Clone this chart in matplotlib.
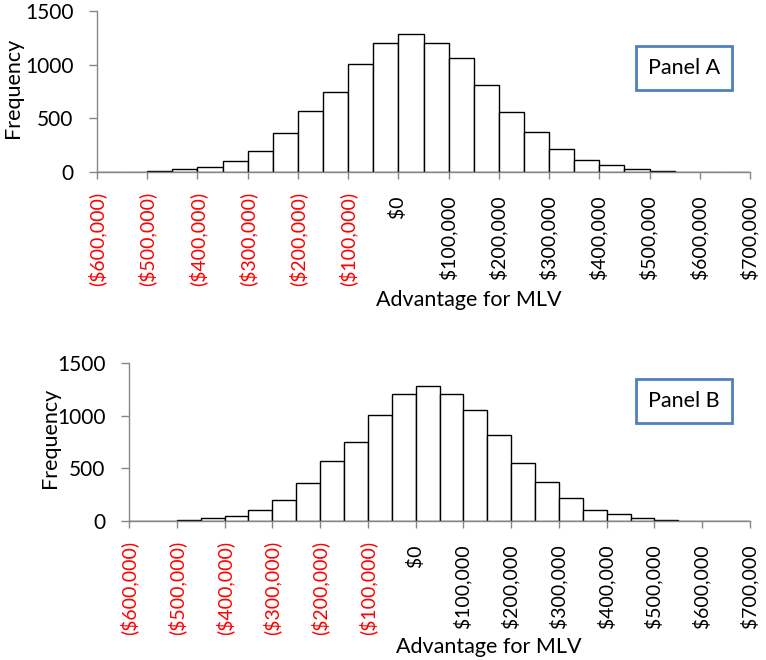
import matplotlib
matplotlib.use("Agg")
import matplotlib.pyplot as plt
import numpy as np

plt.rcParams['font.family'] = ['Lato', 'DejaVu Sans']

# histogram of the MLV advantage, bins of $50,000 from -$600,000 to $700,000
bin_edges = list(range(-600000, 700000, 50000))
freq_a = [0, 0, 7, 25, 43, 100, 200, 360, 570, 750, 1010, 1200, 1285,
          1200, 1058, 815, 555, 375, 215, 108, 62, 25, 5, 2, 0, 0]
freq_b = [2, 0, 7, 25, 43, 100, 200, 360, 570, 750, 1010, 1210, 1285,
          1210, 1058, 815, 555, 375, 215, 108, 62, 25, 5, 2, 0, 0]
tick_vals = list(range(-600000, 700001, 100000))
y_ticks = [0, 500, 1000, 1500]
panel_names = ["Panel A", "Panel B"]

def money(v):
    # excel style: negatives in brackets, positives padded for the bracket
    if v < 0:
        return "(${:,})".format(-v)
    return "${:,} ".format(v)

W, H = 766, 660
fig = plt.figure(figsize=(W / 100, H / 100), dpi=100)

# pixel boxes: left, right, top, bottom
boxes = [(97, 750, 11, 172), (129, 750, 363, 521)]
ylab_pos = [(13, 88), (50, 438)]
xlab_pos = [(469, 300), (489, 647)]
panel_pos = [(684, 68), (684, 401)]
gray = "#868686"

for i, freq in enumerate([freq_a, freq_b]):
    l, r, t, b = boxes[i]
    ax = fig.add_axes([l / W, 1 - b / H, (r - l) / W, (b - t) / H])
    ax.bar(bin_edges, freq, width=50000, align='edge', color='white',
           edgecolor='black', linewidth=1.0)
    ax.set_xlim(-600000, 700000)
    ax.set_ylim(0, 1500)
    ax.set_yticks(y_ticks)
    ax.set_yticklabels([str(v) for v in y_ticks], fontsize=15)
    ax.set_xticks(tick_vals)
    labels = ax.set_xticklabels([money(v) for v in tick_vals], rotation=90,
                                fontsize=14, va='top', ha='center')
    for v, lab in zip(tick_vals, labels):
        lab.set_color('#FF0000' if v < 0 else 'black')
    for s in ['top', 'right']:
        ax.spines[s].set_visible(False)
    for s in ['left', 'bottom']:
        ax.spines[s].set_color(gray)
        ax.spines[s].set_linewidth(1.0)
    ax.tick_params(axis='x', length=5, width=1, color=gray, pad=9)
    ax.tick_params(axis='y', length=6, width=1, color=gray, pad=11)

    fig.text(ylab_pos[i][0] / W, 1 - ylab_pos[i][1] / H, "Frequency",
             rotation=90, ha='center', va='center', fontsize=15.5)
    fig.text(xlab_pos[i][0] / W, 1 - xlab_pos[i][1] / H, "Advantage for MLV",
             ha='center', va='center', fontsize=15.5)
    fig.text(panel_pos[i][0] / W, 1 - panel_pos[i][1] / H, panel_names[i],
             ha='center', va='center', fontsize=15.5,
             bbox=dict(boxstyle='square,pad=0.55', facecolor='white',
                       edgecolor='#4F81BD', linewidth=2))

fig.savefig("out.png", dpi=100)
